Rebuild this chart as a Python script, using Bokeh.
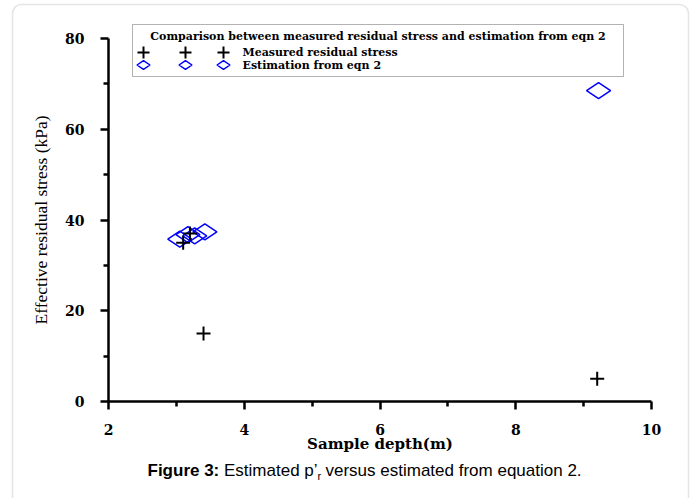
from bokeh.plotting import figure
from bokeh.models import FixedTicker, BoxAnnotation, Label, Range1d
from bokeh.embed import file_html
from bokeh.resources import INLINE
import math

# ---- data ----
measured_depth = [3.1, 3.2, 3.4, 9.2]
measured_stress = [35.0, 37.0, 15.0, 5.0]
est_depth = [3.05, 3.17, 3.27, 3.42, 9.22]
est_stress = [35.8, 36.8, 36.5, 37.4, 68.5]
x_ticks = [2, 4, 6, 8, 10]
x_minor = [3, 5, 7, 9]
y_ticks = [0, 20, 40, 60, 80]
y_minor = [10, 30, 50, 70]
legend_title = "Comparison between measured residual stress and estimation from eqn 2"
series_names = ["Measured residual stress", "Estimation from eqn 2"]

# ---- layout (pixels) ----
W, H = 693, 498
AX_L, AX_R = 108, 651      # pixel of first / last x tick
AY_T, AY_B = 38, 401       # pixel of last / first y tick
X0, X1 = x_ticks[0], x_ticks[-1]
Y0, Y1 = y_ticks[0], y_ticks[-1]
sx = (AX_R - AX_L) / (X1 - X0)
sy = (AY_B - AY_T) / (Y1 - Y0)


def dx(px):
    return X0 + (px - AX_L) / sx


def dy(py):
    return Y0 + (AY_B - py) / sy


def ry(py):  # frame-relative screen y (from bottom)
    return H - py


p = figure(width=W, height=H,
           x_range=Range1d(dx(0), dx(W)), y_range=Range1d(dy(H), dy(0)),
           output_backend="svg", toolbar_location=None,
           min_border_left=0, min_border_right=0, min_border_top=0, min_border_bottom=0)
p.xgrid.visible = False
p.ygrid.visible = False
p.outline_line_color = None
p.background_fill_color = "white"
p.border_fill_color = "white"

SERIF_B = "DejaVu Serif"
p.xaxis.fixed_location = Y0
p.yaxis.fixed_location = X0
p.xaxis.bounds = (X0, X1)
p.yaxis.bounds = (Y0, Y1)
for ax, ticks, minor in ((p.xaxis[0], x_ticks, x_minor), (p.yaxis[0], y_ticks, y_minor)):
    ax.ticker = FixedTicker(ticks=ticks, minor_ticks=minor)
    ax.axis_line_width = 2.5
    ax.axis_line_color = "black"
    ax.major_tick_line_width = 2.5
    ax.minor_tick_line_width = 2.5
    ax.major_tick_out = 8
    ax.major_tick_in = 0
    ax.minor_tick_out = 5
    ax.minor_tick_in = 0
    ax.major_label_text_font = SERIF_B
    ax.major_label_text_font_style = "bold"
    ax.major_label_text_font_size = "14px"
    ax.major_label_text_color = "black"
    ax.axis_label_text_color = "black"

p.xaxis.axis_label = "Sample depth(m)"
p.xaxis.axis_label_text_font = SERIF_B
p.xaxis.axis_label_text_font_style = "bold"
p.xaxis.axis_label_text_font_size = "15px"
p.xaxis.major_label_standoff = 14
p.xaxis.axis_label_standoff = -3

p.yaxis.axis_label = "Effective residual stress (kPa)"
p.yaxis.axis_label_text_font = "Liberation Serif"
p.yaxis.axis_label_text_font_style = "normal"
p.yaxis.axis_label_text_font_size = "17.5px"
p.yaxis.major_label_standoff = 16
p.yaxis.axis_label_standoff = 11

# ---- data marks ----
p.scatter(est_depth, est_stress, marker="diamond", size=24, angle=math.pi / 2,
          fill_color=None, line_color="#0000ff", line_width=1.5)
p.scatter(measured_depth, measured_stress, marker="cross", size=14,
          line_color="black", line_width=2)

# ---- outer rounded border ----
p.add_layout(BoxAnnotation(left=12, right=688, top=ry(4), bottom=ry(H + 30),
                           left_units="screen", right_units="screen",
                           top_units="screen", bottom_units="screen",
                           fill_alpha=0, line_color="#aaaaaa", line_width=1.5,
                           border_radius=9))

# ---- legend ----
LB_L, LB_R, LB_T, LB_B = 132, 623, 24, 76
p.add_layout(BoxAnnotation(left=LB_L, right=LB_R, top=ry(LB_T), bottom=ry(LB_B),
                           left_units="screen", right_units="screen",
                           top_units="screen", bottom_units="screen",
                           fill_alpha=0, line_color="black", line_width=1))
p.add_layout(Label(x=(LB_L + LB_R) / 2, y=ry(36), x_units="screen", y_units="screen",
                   text=legend_title, text_align="center", text_baseline="middle",
                   text_font=SERIF_B, text_font_style="bold", text_font_size="11px",
                   text_color="black"))
row_y = [52, 64.5]
mark_x = [143, 185, 223]
for i, name in enumerate(series_names):
    p.add_layout(Label(x=242, y=ry(row_y[i]), x_units="screen", y_units="screen",
                       text=name, text_align="left", text_baseline="middle",
                       text_font=SERIF_B, text_font_style="bold", text_font_size="11px",
                       text_color="black"))
lx = [dx(v) for v in mark_x]
p.scatter(lx, [dy(row_y[0])] * 3, marker="cross", size=12, line_color="black", line_width=2)
p.scatter(lx, [dy(row_y[1])] * 3, marker="diamond", size=13, angle=math.pi / 2,
          fill_color=None, line_color="#0000ff", line_width=1.5)

# ---- caption ----
SANS = "Liberation Sans"
CY = ry(470)
FS = "17px"
p.add_layout(Label(x=147, y=CY, x_units="screen", y_units="screen", text="Figure 3:",
                   text_font=SANS, text_font_style="bold", text_font_size=FS,
                   text_baseline="middle", text_color="black"))
p.add_layout(Label(x=223.5, y=CY, x_units="screen", y_units="screen", text="Estimated p\u2019",
                   text_font=SANS, text_font_size=FS,
                   text_baseline="middle", text_color="black"))
p.add_layout(Label(x=317, y=CY - 5, x_units="screen", y_units="screen", text="r",
                   text_font=SANS, text_font_size="11px",
                   text_baseline="middle", text_color="black"))
p.add_layout(Label(x=325, y=CY, x_units="screen", y_units="screen",
                   text="versus estimated from equation 2.",
                   text_font=SANS, text_font_size=FS,
                   text_baseline="middle", text_color="black"))

open("out.html", "w").write(file_html(p, INLINE))
